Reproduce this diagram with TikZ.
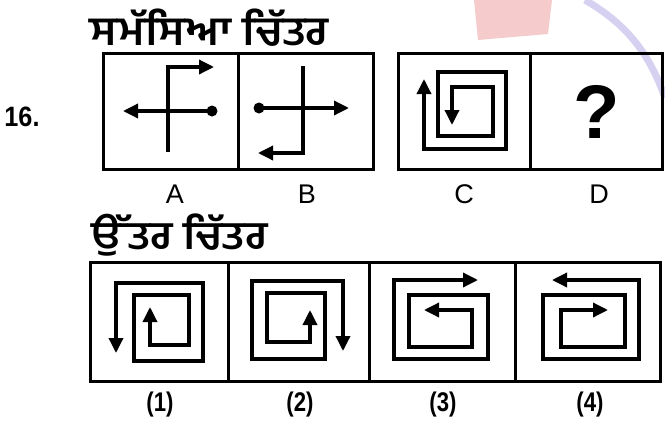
\documentclass[tikz,border=0pt]{standalone}
\usepackage{fontspec}
\setsansfont{Liberation Sans}
\newfontfamily\gurfont[Script=Gurmukhi]{Hind Jalandhar}
\usetikzlibrary{arrows.meta}
\definecolor{markred}{RGB}{232,140,140}
\definecolor{marklilac}{RGB}{214,209,240}

\begin{document}
\begin{tikzpicture}[x=1pt, y=-1pt,
  frame/.style={line width=3pt},
  spiral/.style={line width=3.4pt, line join=miter,
    {Triangle[length=15pt,width=14pt]}-{Triangle[length=15pt,width=14pt]}},
  oneway/.style={line width=3.4pt, line join=miter,
    -{Triangle[length=15pt,width=14pt]}},
  every node/.style={font=\sffamily}]
  \useasboundingbox (0,0) rectangle (665,421);

  % faint watermark
  \fill[markred, opacity=0.45] (474,0) -- (552,0) -- (548,34) -- (478,40) -- cycle;
  \draw[marklilac, line width=7pt] (585,0) .. controls (628,25) and (650,55) .. (665,98);

  % titles
  \node[anchor=west, xscale=1.1, font=\gurfont\bfseries\fontsize{40}{42}\selectfont] (probtitle) at (86,28) {ਸਮੱਸਿਆ ਚਿੱਤਰ};
  \node[anchor=west, xscale=1.1, font=\gurfont\bfseries\fontsize{39}{41}\selectfont] (anstitle) at (88,235) {ਉੱਤਰ ਚਿੱਤਰ};
  \node[font=\sffamily\bfseries\fontsize{28}{30}\selectfont, xscale=0.9] (qnum) at (22,117) {16.};

  % problem figures
  \foreach \xa/\xb in {103/238, 238/373, 398/530, 530/662}
    \draw[frame] (\xa,53) rectangle (\xb,169);
  \foreach \x/\lbl in {175/A, 307/B, 464/C, 599/D}
    \node[font=\sffamily\fontsize{27}{29}\selectfont] (lab\lbl) at (\x,194) {\lbl};

  % figure A
  \draw[oneway] (168,152) -- (168,67) -- (214,67);
  \draw[oneway] (212,111) -- (123,111);
  \fill (212,111) circle (5.5pt);

  % figure B
  \draw[oneway] (303,66) -- (303,153) -- (258,153);
  \draw[oneway] (259,108) -- (349,108);
  \fill (259,108) circle (5.5pt);

  % figure C
  \draw[spiral] (424,79) -- (424,149) -- (506,149) -- (506,72) -- (438,72)
    -- (438,136) -- (493,136) -- (493,87) -- (452,87) -- (452,125);

  % figure D
  \node[font=\sffamily\bfseries\fontsize{76}{80}\selectfont] (qmark) at (597,112) {?};

  % answer figures
  \foreach \xa/\xb in {90/228, 228/369, 369/515, 515/660}
    \draw[frame] (\xa,262) rectangle (\xb,381);
  \foreach \x/\n in {160/1, 300/2, 443/3, 590/4}
    \node[font=\sffamily\bfseries\fontsize{27}{29}\selectfont, xscale=0.82] (ans\n) at (\x,405) {(\n)};

  % (1)
  \draw[spiral] (116,353) -- (116,283) -- (203,283) -- (203,361) -- (134,361)
    -- (134,295) -- (189,295) -- (189,345) -- (150,345) -- (150,307);
  % (2)
  \draw[spiral] (343,351) -- (343,281) -- (252,281) -- (252,359) -- (325,359)
    -- (325,293) -- (267,293) -- (267,342) -- (310,342) -- (310,310);
  % (3)
  \draw[spiral] (478,280) -- (394,280) -- (394,359) -- (488,359) -- (488,295)
    -- (409,295) -- (409,347) -- (472,347) -- (472,310) -- (424,310);
  % (4)
  \draw[spiral] (552,280) -- (639,280) -- (639,359) -- (543,359) -- (543,295)
    -- (625,295) -- (625,347) -- (561,347) -- (561,310) -- (608,310);
\end{tikzpicture}
\end{document}
